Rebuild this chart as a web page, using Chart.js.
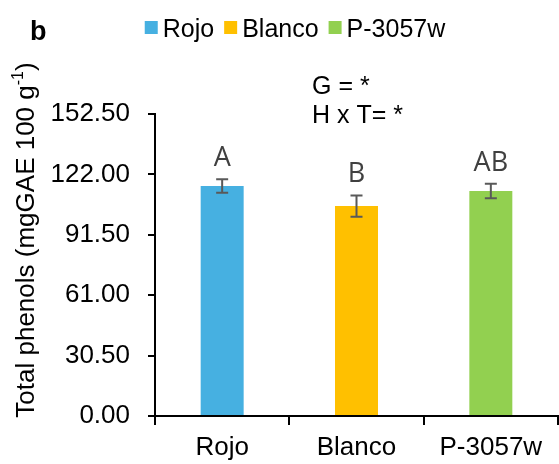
<!DOCTYPE html>
<html>
<head>
<meta charset="utf-8">
<script src="https://cdn.jsdelivr.net/npm/chart.js@4/dist/chart.umd.min.js"></script>
<style>
  body { margin: 0; background: #fff; }
  canvas { display: block; }
</style>
</head>
<body>
<canvas id="chart" width="559" height="464"></canvas>
<script>
// data
const categories = ['Rojo', 'Blanco', 'P-3057w'];
const phenols = [116.1, 106.0, 113.6];
const phenolsErr = [3.4, 5.4, 3.7];
const letters = ['A', 'B', 'AB'];
const barColors = ['#46B0E1', '#FFC000', '#92D050'];
const yTicks = [0, 30.5, 61, 91.5, 122, 152.5];
const notes = ['G = *', 'H x T= *'];

const FONT = '"Liberation Sans", Arial, sans-serif';

// error bars, letters, legend, titles
const extras = {
    id: 'extras',
    afterDatasetsDraw(chart) {
        const ctx = chart.ctx;
        const x = chart.scales.x;
        const y = chart.scales.y;
        ctx.save();
        phenols.forEach((v, i) => {
            const cx = x.getPixelForValue(i);
            const top = y.getPixelForValue(v + phenolsErr[i]);
            const bot = y.getPixelForValue(v - phenolsErr[i]);
            ctx.strokeStyle = '#595959';
            ctx.lineWidth = 2;
            ctx.beginPath();
            ctx.moveTo(cx, top); ctx.lineTo(cx, bot);
            ctx.moveTo(cx - 6, top); ctx.lineTo(cx + 6, top);
            ctx.moveTo(cx - 6, bot); ctx.lineTo(cx + 6, bot);
            ctx.stroke();
            // significance letters
            ctx.fillStyle = '#404040';
            ctx.font = '27px "Open Sans", "Noto Sans", sans-serif';
            ctx.textAlign = 'center';
            ctx.textBaseline = 'alphabetic';
            ctx.fillText(letters[i], cx, top - 13);
        });
        ctx.restore();
    },
    afterDraw(chart) {
        const ctx = chart.ctx;
        ctx.save();
        ctx.fillStyle = '#000';

        // panel letter
        ctx.font = 'bold 27px ' + FONT;
        ctx.textAlign = 'left';
        ctx.textBaseline = 'alphabetic';
        ctx.fillText('b', 30, 40);

        // legend
        ctx.font = '25px ' + FONT;
        let w = 0;
        categories.forEach((c, i) => {
            w += 13 + 5 + ctx.measureText(c).width + (i < categories.length - 1 ? 10 : 0);
        });
        let lx = 295 - w / 2;
        categories.forEach((c, i) => {
            ctx.fillStyle = barColors[i];
            ctx.fillRect(lx, 21, 13, 13);
            ctx.fillStyle = '#000';
            ctx.fillText(c, lx + 18, 37);
            lx += 18 + ctx.measureText(c).width + 10;
        });

        // stats notes
        ctx.font = '25px ' + FONT;
        notes.forEach((n, i) => ctx.fillText(n, 312, 94 + i * 29));

        // y axis title with superscript
        ctx.translate(34, 240);
        ctx.rotate(-Math.PI / 2);
        const main = 'Total phenols (mgGAE 100 g';
        const sup = '-1';
        const end = ')';
        ctx.font = '26px ' + FONT;
        const wMain = ctx.measureText(main).width;
        const wEnd = ctx.measureText(end).width;
        ctx.font = '16px ' + FONT;
        const wSup = ctx.measureText(sup).width;
        let tx = -(wMain + wSup + wEnd) / 2;
        ctx.font = '26px ' + FONT;
        ctx.fillText(main, tx, 0);
        tx += wMain;
        ctx.font = '16px ' + FONT;
        ctx.fillText(sup, tx, -11);
        tx += wSup;
        ctx.font = '26px ' + FONT;
        ctx.fillText(end, tx, 0);
        ctx.restore();
    }
};

new Chart(document.getElementById('chart'), {
    type: 'bar',
    data: {
        labels: categories,
        datasets: [{
            data: phenols,
            backgroundColor: barColors,
            borderWidth: 0,
            barPercentage: 0.32,
            categoryPercentage: 1
        }]
    },
    options: {
        responsive: false,
        animation: false,
        layout: { padding: { top: 114, right: 1, left: 0, bottom: 0 } },
        plugins: {
            legend: { display: false },
            tooltip: { enabled: false }
        },
        scales: {
            x: {
                afterFit: s => { s.height = 48; },
                grid: { drawOnChartArea: false, tickLength: 9, color: '#000', lineWidth: 2 },
                border: { color: '#000', width: 2 },
                ticks: { color: '#000', font: { family: FONT, size: 26 }, padding: 7, maxRotation: 0 }
            },
            y: {
                min: 0,
                max: 152.5,
                afterFit: s => { s.width = 155; },
                afterBuildTicks: s => { s.ticks = yTicks.map(v => ({ value: v })); },
                grid: { drawOnChartArea: false, tickLength: 7, color: '#000', lineWidth: 2 },
                border: { color: '#000', width: 2 },
                ticks: {
                    color: '#000',
                    font: { family: FONT, size: 26 },
                    padding: 18,
                    callback: v => Number(v).toFixed(2)
                }
            }
        }
    },
    plugins: [extras]
});
</script>
</body>
</html>
